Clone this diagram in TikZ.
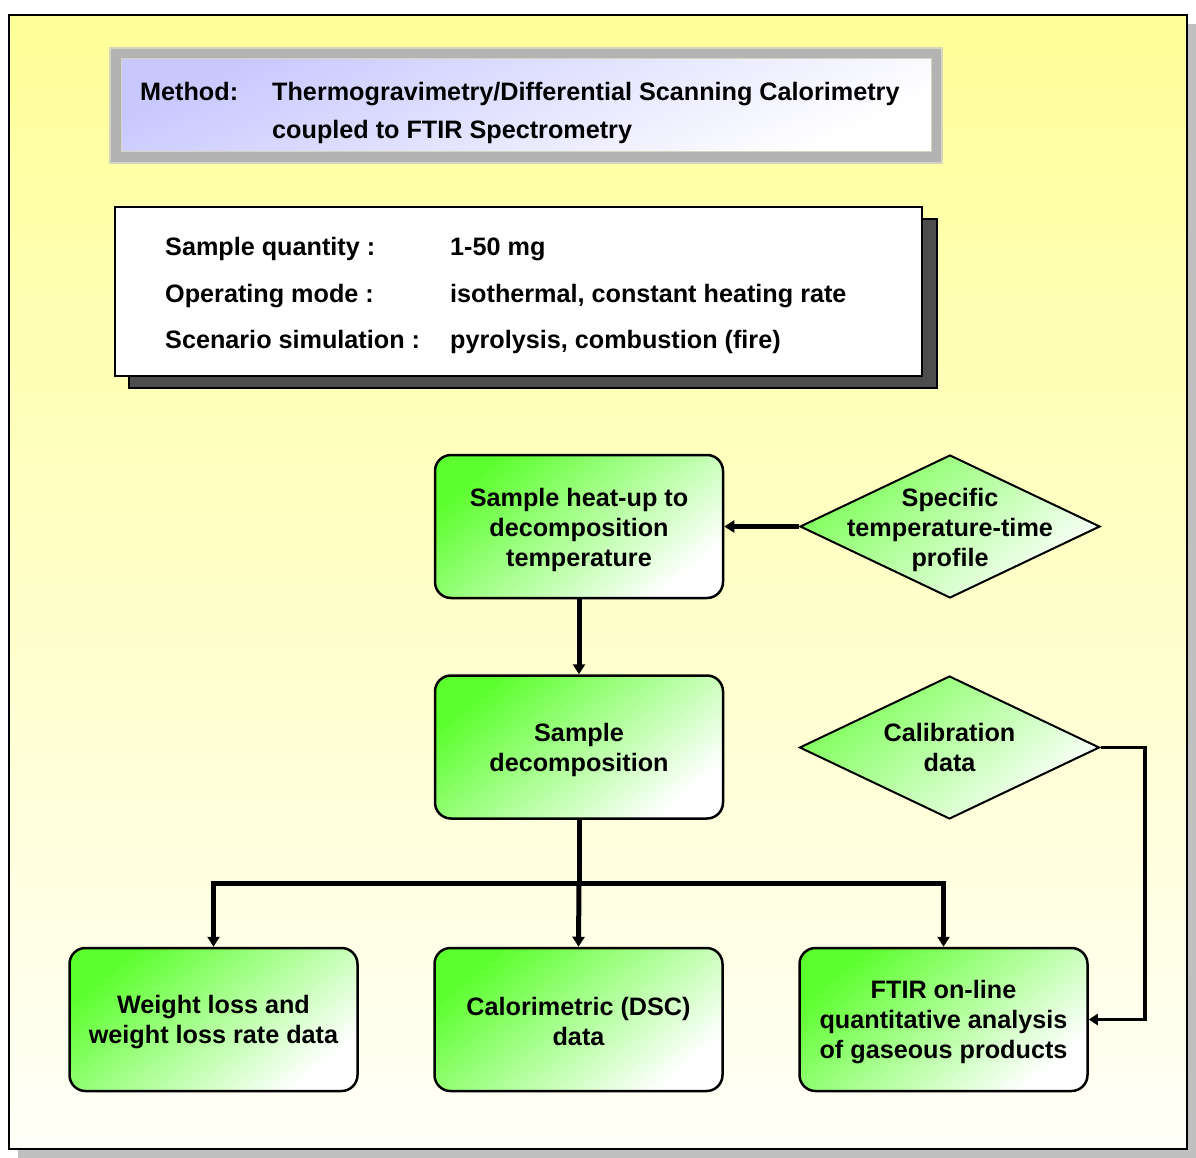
\documentclass[tikz,border=0pt]{standalone}
\usepackage{fontspec}
\setmainfont{Liberation Sans}
\usetikzlibrary{shapes.geometric,arrows.meta}
\definecolor{bgtop}{HTML}{FFFF99}
\definecolor{bgbot}{HTML}{FFFFF8}
\definecolor{gbright}{HTML}{5CFF2E}
\definecolor{lav}{HTML}{C8C8FF}
\definecolor{shadowgray}{HTML}{C0C0C0}
\definecolor{darkshadow}{HTML}{4D4D4D}
\definecolor{bandgray}{HTML}{B3B3B3}
\definecolor{bandedge}{HTML}{D6D6C0}
\begin{document}
\begin{tikzpicture}[x=1pt,y=-1pt,
  txt/.style={font=\bfseries\fontsize{25.2}{30}\selectfont, align=center, inner sep=0pt, text=black},
  gbox/.style={draw=black, line width=2.5pt, rounded corners=16pt, inner sep=0pt,
    minimum width=288pt, minimum height=143pt,
    top color=gbright, bottom color=white, shading angle=40},
  dshape/.style={shape=diamond, draw=black, line width=2pt, inner sep=0pt,
    minimum width=300pt, minimum height=143pt,
    top color=gbright!80!white, bottom color=white, shading angle=40},
  flow/.style={line width=5pt, line join=miter, -{Triangle[length=10pt,width=12pt]}},
  flowline/.style={line width=5pt},
  calflow/.style={line width=3.5pt, line join=miter, -{Triangle[length=9pt,width=11pt]}}
]
\useasboundingbox (0,0) rectangle (1196,1158);
% outer frame with shadow
\fill[shadowgray] (18,24) rectangle (1196,1158);
\draw[line width=2pt, top color=bgtop, bottom color=bgbot] (9,15) rectangle (1187,1149);

% title box
\fill[bandgray, draw=bandedge, line width=1.5pt] (110,48) rectangle (942,163);
\draw[bandedge, line width=1pt, top color=lav, bottom color=white, shading angle=25] (121,59) rectangle (931,152);
\node[txt, anchor=base west] (mlabel) at (140,101) {Method:};
\node[txt, anchor=base west] (mline1) at (272,101) {Thermogravimetry/Differential Scanning Calorimetry};
\node[txt, anchor=base west] (mline2) at (272,139) {coupled to FTIR Spectrometry};

% info box
\fill[darkshadow, draw=black, line width=1.5pt] (129,219) rectangle (937,388);
\draw[fill=white, line width=2.5pt] (115,207) rectangle (922,376);
\node[txt, anchor=base west] (q1) at (165,256) {Sample quantity :};
\node[txt, anchor=base west] (v1) at (450,256) {1-50 mg};
\node[txt, anchor=base west] (q2) at (165,302) {Operating mode :};
\node[txt, anchor=base west] (v2) at (450,302) {isothermal, constant heating rate};
\node[txt, anchor=base west] (q3) at (165,348) {Scenario simulation :};
\node[txt, anchor=base west] (v3) at (450,348) {pyrolysis, combustion (fire)};

% flowchart boxes
\node[gbox] (heat) at (579,526.5) {};
\node[txt] (heatt) at ([yshift=-3pt]heat.center) {Sample heat-up to\\decomposition\\temperature};
\node[gbox] (decomp) at (579,747) {};
\node[txt] (decompt) at ([yshift=-3pt]decomp.center) {Sample\\decomposition};
\node[gbox] (wl) at (213.5,1019.5) {};
\node[txt] (wlt) at ([yshift=-3pt]wl.center) {Weight loss and\\weight loss rate data};
\node[gbox] (dsc) at (578.5,1019.5) {};
\node[txt] (dsct) at ([yshift=-2pt]dsc.center) {Calorimetric (DSC)\\data};
\node[gbox] (ftir) at (943.5,1019.5) {};
\node[txt] (ftirt) at ([yshift=-3pt]ftir.center) {FTIR on-line\\quantitative analysis\\of gaseous products};

% diamonds
\node[dshape] (prof) at (950,526.5) {};
\node[txt] (proft) at ([yshift=-3pt]prof.center) {Specific\\temperature-time\\profile};
\node[dshape] (cal) at (949.5,747.5) {};
\node[txt] (calt) at (cal.center) {Calibration\\data};

% connectors
\draw[flow] (prof.west) -- (heat.east);
\draw[flow] (heat.south) -- (decomp.north);
\coordinate (split) at (579,883);
\draw[flowline] (decomp.south) -- (split);
\draw[flow] (split) -| (wl.north);
\draw[flow] (split) -| (ftir.north);
\draw[flow] (split) -- (dsc.north);
\coordinate (calr) at (1145,747.5);
\draw[calflow] (cal.east) -- (calr) |- (ftir.east);
\end{tikzpicture}
\end{document}
